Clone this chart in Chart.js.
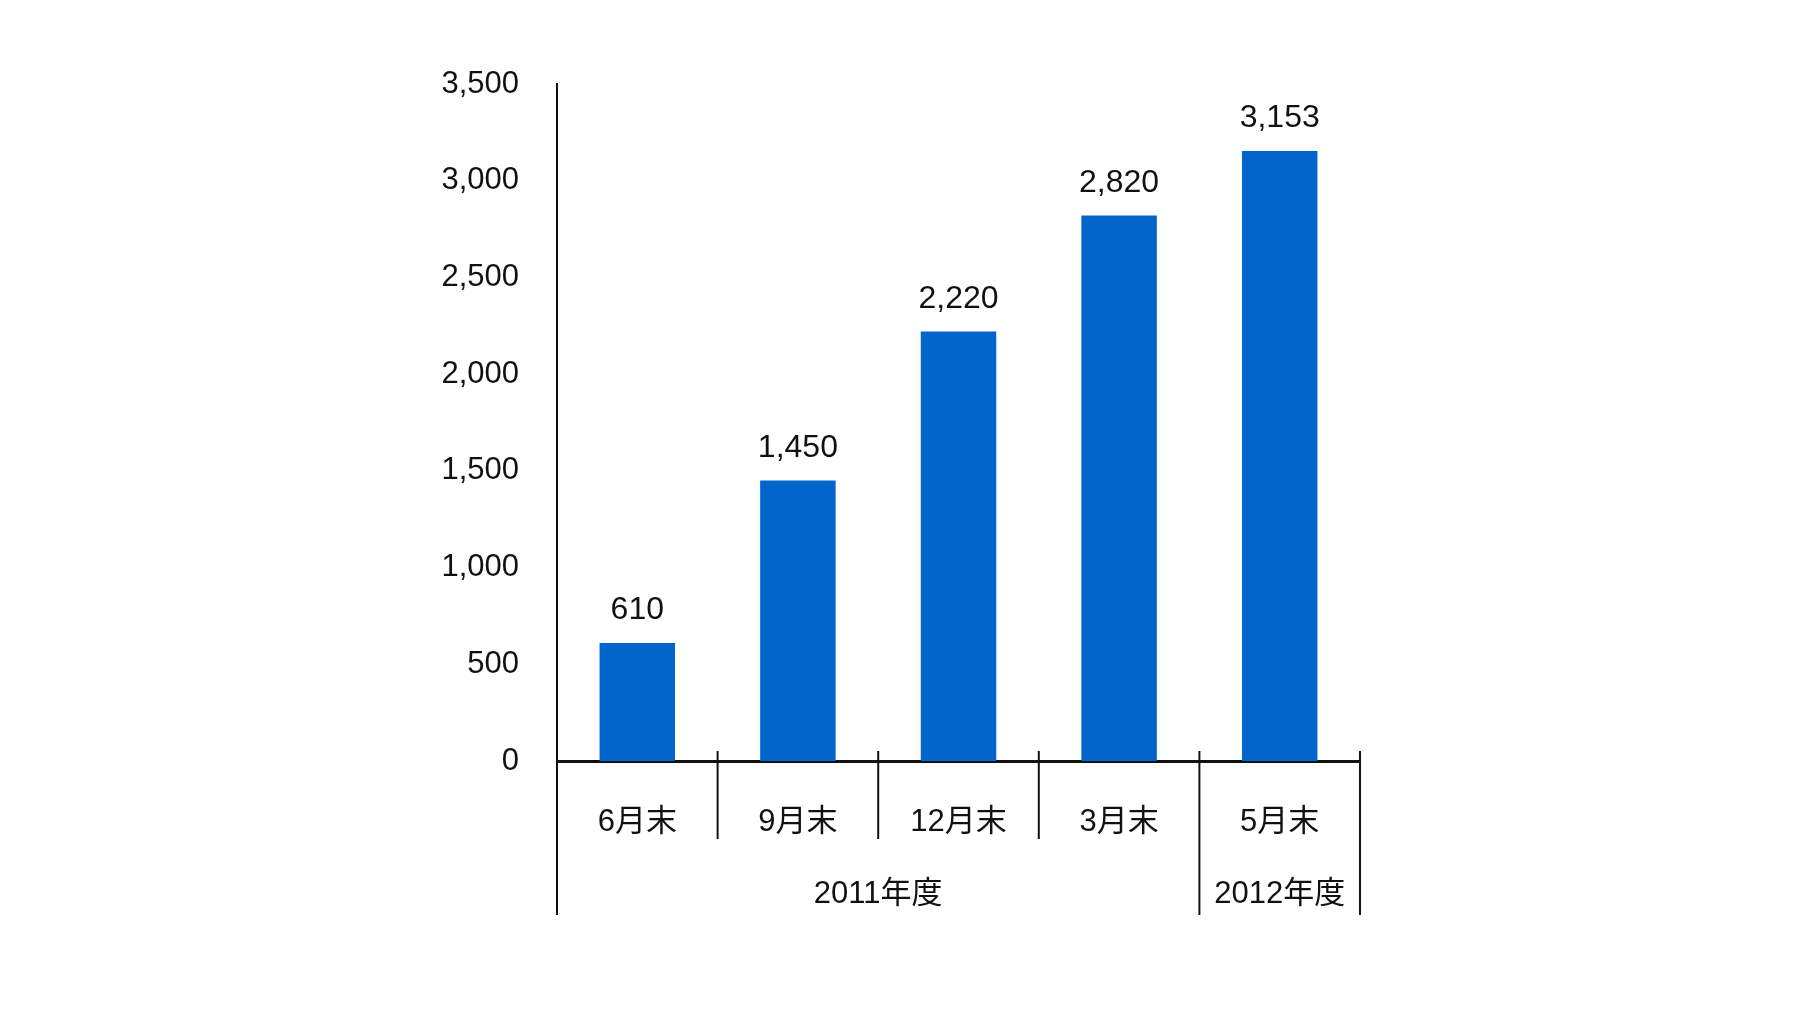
<!DOCTYPE html>
<html><head><meta charset="utf-8">
<script src="https://cdn.jsdelivr.net/npm/chart.js@4"></script>
<style>html,body{margin:0;background:#fff}#wrap{width:1807px;height:1018px}</style>
</head><body><div id="wrap"><canvas id="c"></canvas></div>
<script>
const categories = ["6月末", "9月末", "12月末", "3月末", "5月末"];
const values = [610, 1450, 2220, 2820, 3153];
const groups = [["2011年度", 0, 3], ["2012年度", 4, 4]];
const yTicks = [0, 500, 1000, 1500, 2000, 2500, 3000, 3500];

const font = "'Liberation Sans', Arial, 'Noto Sans CJK JP', sans-serif";

const extras = {
    id: "extras",
    afterDraw(chart) {
        const ctx = chart.ctx, x = chart.scales.x;
        const step = x.getPixelForValue(1) - x.getPixelForValue(0);
        const bottom = chart.chartArea.bottom;
        ctx.save();
        ctx.fillStyle = "#111";
        ctx.strokeStyle = "#111";
        ctx.lineWidth = 2;
        ctx.textAlign = "center";
        ctx.textBaseline = "alphabetic";
        ctx.font = "32px " + font;
        // value labels
        chart.getDatasetMeta(0).data.forEach((bar, i) => {
            ctx.fillText(values[i].toLocaleString("en-US"), bar.x, bar.y - 24);
        });
        // category labels and separators
        ctx.font = "31px " + font;
        categories.forEach((c, i) => {
            ctx.fillText(c, x.getPixelForValue(i), bottom + 70);
        });
        for (let i = 0; i <= categories.length; i++) {
            const px = x.getPixelForValue(0) - step / 2 + i * step;
            const full = i === 0 || i === 4 || i === categories.length;
            ctx.beginPath();
            ctx.moveTo(px, bottom - 10);
            ctx.lineTo(px, full ? bottom + 154 : bottom + 78);
            ctx.stroke();
        }
        groups.forEach(g => {
            const cx = (x.getPixelForValue(g[1]) + x.getPixelForValue(g[2])) / 2;
            ctx.fillText(g[0], cx, bottom + 142);
        });
        ctx.restore();
    }
};

new Chart(document.getElementById("c"), {
    type: "bar",
    data: {
        labels: categories,
        datasets: [{ data: values, backgroundColor: "#0066cc", categoryPercentage: 1, barPercentage: 0.47 }]
    },
    options: {
        responsive: true,
        maintainAspectRatio: false,
        animation: false,
        layout: { padding: { left: 398, right: 447, top: 84, bottom: 257 } },
        plugins: { legend: { display: false }, tooltip: { enabled: false } },
        scales: {
            x: {
                grid: { display: false, drawTicks: false },
                border: { color: "#111", width: 3 },
                ticks: { display: false }
            },
            y: {
                min: 0, max: 3500,
                afterBuildTicks: s => { s.ticks = yTicks.map(v => ({ value: v })); },
                afterFit: s => { s.width = 159; },
                grid: { display: false, drawTicks: true, tickLength: 8, color: "#111" },
                border: { color: "#111", width: 2 },
                ticks: { color: "#111", font: { size: 31, family: font }, padding: 30,
                    callback: v => v.toLocaleString("en-US") }
            }
        }
    },
    plugins: [extras]
});
</script></body></html>
